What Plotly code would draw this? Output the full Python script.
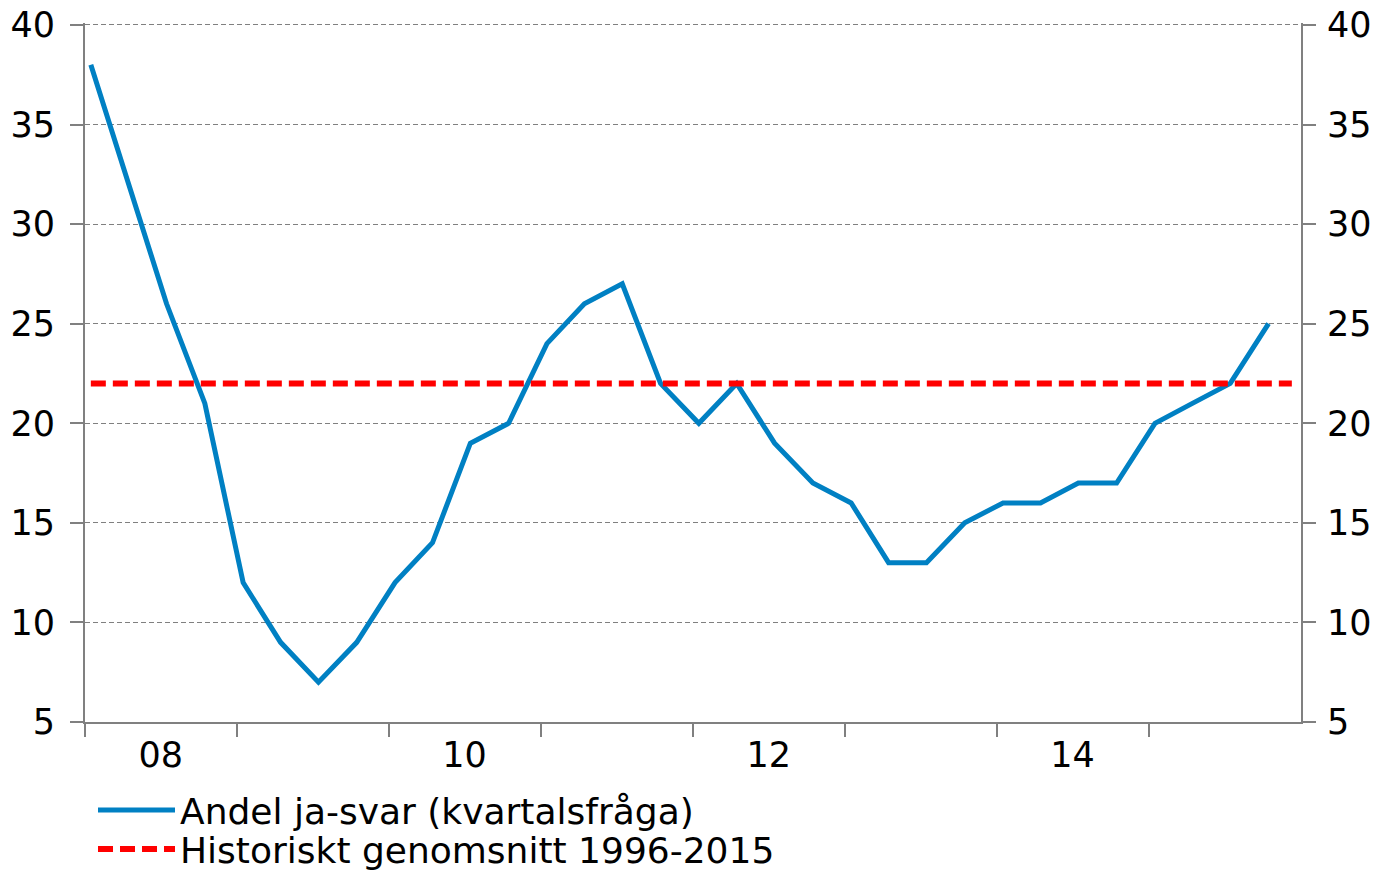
import pandas as pd
import plotly.graph_objects as go

# Quarterly observations, 2008 Q1 - 2015 Q4
quarters = pd.date_range("2008-01-01", periods=32, freq="QS") + pd.Timedelta(days=14)
andel_ja = [38, 32, 26, 21,
            12, 9, 7, 9,
            12, 14, 19, 20,
            24, 26, 27, 22,
            20, 22, 19, 17,
            16, 13, 13, 15,
            16, 16, 17, 17,
            20, 21, 22, 25]

mean_x = ["2008-01-15", "2015-12-10"]
mean_val = [22, 22]

year_starts = ["2008-01-01", "2009-01-01", "2010-01-01", "2011-01-01",
               "2012-01-01", "2013-01-01", "2014-01-01", "2015-01-01"]
year_label_pos = ["2008-07-01", "2010-07-01", "2012-07-01", "2014-07-01"]
year_labels = ["08", "10", "12", "14"]
y_ticks = [5, 10, 15, 20, 25, 30, 35, 40]
y_range = [5, 40.1]

FONT = "DejaVu Sans"
FS = 35
LFS = 36
AX = "#808080"

# page body has an 8px margin; size the figure to fill the visible window
W, H = 1370, 863

fig = go.Figure()
fig.add_trace(go.Scatter(
    x=quarters, y=andel_ja, mode="lines",
    name="Andel ja-svar (kvartalsfråga)",
    line=dict(color="#0080C3", width=5), legend="legend",
))
fig.add_trace(go.Scatter(
    x=mean_x, y=mean_val, mode="lines",
    name="Historiskt genomsnitt 1996-2015",
    line=dict(color="#FF0000", width=6, dash="15px,7px"), legend="legend2",
))
# invisible trace to activate right axis
fig.add_trace(go.Scatter(
    x=mean_x, y=mean_val, mode="lines", yaxis="y2",
    line=dict(color="rgba(0,0,0,0)", width=0), showlegend=False, hoverinfo="skip",
))

leg_common = dict(
    xref="container", yref="container", xanchor="left", yanchor="top",
    orientation="v", itemwidth=77,
    font=dict(family=FONT, size=LFS, color="black"),
    bgcolor="rgba(0,0,0,0)",
)

fig.update_layout(
    width=W, height=H,
    margin=dict(l=77, r=77, t=15, b=149, autoexpand=False),
    paper_bgcolor="white", plot_bgcolor="white",
    font=dict(family=FONT, size=FS, color="black"),
    showlegend=True,
    legend=dict(x=85 / W, y=1 - 772 / H, **leg_common),
    legend2=dict(x=85 / W, y=1 - 811 / H, **leg_common),
    xaxis=dict(
        type="date",
        range=["2008-01-01", "2016-01-01"],
        tickmode="array", tickvals=year_label_pos, ticktext=year_labels,
        ticks="outside", ticklen=1, tickcolor="rgba(0,0,0,0)",
        showgrid=False, zeroline=False,
        showline=True, linecolor=AX, linewidth=2,
        minor=dict(ticks="outside", ticklen=13, tickcolor=AX, tickwidth=2,
                   tickmode="array", tickvals=year_starts, showgrid=False),
        tickfont=dict(family=FONT, size=FS), ticklabeloverflow="allow",
    ),
    yaxis=dict(
        range=y_range, tickmode="array", tickvals=y_ticks,
        ticks="outside", ticklen=13, tickcolor=AX, tickwidth=2,
        showline=True, linecolor=AX, linewidth=2,
        showgrid=True, gridcolor=AX, gridwidth=1.2, griddash="5px,3px",
        zeroline=False, ticklabelstandoff=8,
        tickfont=dict(family=FONT, size=FS), ticklabeloverflow="allow",
    ),
    yaxis2=dict(
        range=y_range, tickmode="array", tickvals=y_ticks,
        overlaying="y", side="right", matches="y",
        ticks="outside", ticklen=13, tickcolor=AX, tickwidth=2,
        showline=True, linecolor=AX, linewidth=2,
        showgrid=False, zeroline=False, ticklabelstandoff=4,
        tickfont=dict(family=FONT, size=FS), ticklabeloverflow="allow",
    ),
)

fig.write_html("out.html")
